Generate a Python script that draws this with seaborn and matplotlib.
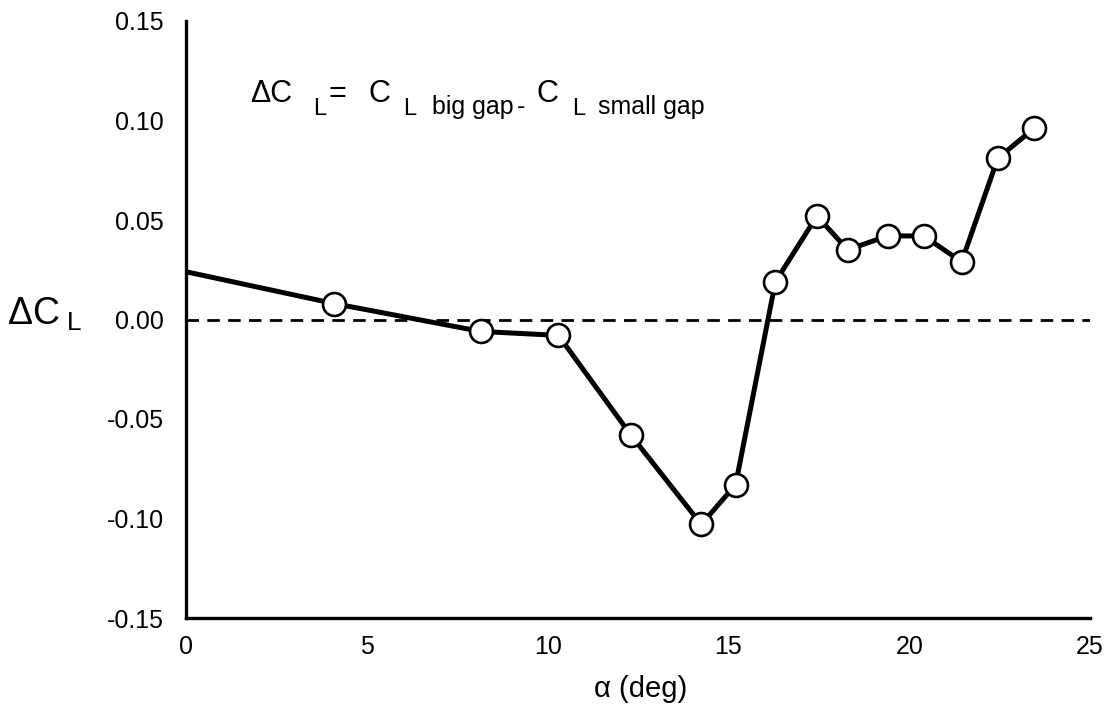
import matplotlib
matplotlib.use("Agg")
import matplotlib.pyplot as plt
import seaborn as sns
import pandas as pd

# ---- data ----
alpha_deg = [0.0, 4.1, 8.15, 10.3, 12.3, 14.25, 15.2, 16.3, 17.45, 18.3, 19.4, 20.4, 21.45, 22.45, 23.45]
delta_cl = [0.024, 0.008, -0.006, -0.008, -0.058, -0.103, -0.083, 0.019, 0.052, 0.035, 0.042, 0.042, 0.029, 0.081, 0.096]
marked = [False] + [True] * (len(alpha_deg) - 1)   # first value is the line start, no symbol

x_ticks = [0, 5, 10, 15, 20, 25]
x_tick_labels = ["0", "5", "10", "15", "20", "25"]
y_ticks = [-0.15, -0.10, -0.05, 0.00, 0.05, 0.10, 0.15]
y_tick_labels = ["-0.15", "-0.10", "-0.05", "0.00", "0.05", "0.10", "0.15"]
x_label = "α (deg)"
y_label = r"$\Delta\mathrm{C}_{\ \mathrm{L}}$"
# annotation pieces: (text, size class)
note_pieces = [("ΔC", "big"), ("L", "sub"), ("=", "big"), ("C", "big"), ("L", "sub"),
               ("big gap", "sub2"), ("-", "sub2"), ("C", "big"), ("L", "sub"), ("small gap", "sub2")]

df = pd.DataFrame({"alpha": alpha_deg, "dcl": delta_cl, "marked": marked})

sns.set_style("white")
plt.rcParams["font.family"] = ["Liberation Sans", "DejaVu Sans"]
plt.rcParams["mathtext.fontset"] = "custom"
plt.rcParams["mathtext.rm"] = "Liberation Sans"
plt.rcParams["mathtext.it"] = "Liberation Sans:italic"
plt.rcParams["mathtext.bf"] = "Liberation Sans:bold"
plt.rcParams["axes.unicode_minus"] = False
plt.rcParams["text.color"] = "black"
plt.rcParams["axes.labelcolor"] = "black"

W, H = 1117, 709
fig = plt.figure(figsize=(W / 100, H / 100), dpi=100)
ax = fig.add_axes([186 / W, 1 - 618 / H, 904 / W, 597 / H])

# zero reference line
ax.axhline(0.0, color="black", lw=2.0, dashes=(4.5, 3.0), zorder=1)

# connecting line
sns.lineplot(data=df, x="alpha", y="dcl", color="black", lw=3.6, ax=ax,
             sort=False, estimator=None, zorder=2)
# circle symbols
sns.scatterplot(data=df[df["marked"]], x="alpha", y="dcl", s=16.5 ** 2, marker="o",
                facecolor="white", edgecolor="black", linewidth=1.9, ax=ax, zorder=3)

ax.set_xlim(0, 25)
ax.set_ylim(-0.15, 0.15)
ax.set_xticks(x_ticks)
ax.set_xticklabels(x_tick_labels)
ax.set_yticks(y_ticks)
ax.set_yticklabels(y_tick_labels)

for side in ["top", "right"]:
    ax.spines[side].set_visible(False)
for side in ["left", "bottom"]:
    ax.spines[side].set_linewidth(2.4)
    ax.spines[side].set_color("black")

ax.tick_params(axis="y", direction="in", length=15, width=1.8, labelsize=18, pad=16,
               colors="black", labelcolor="black")
ax.tick_params(axis="x", direction="in", length=13, width=1.6, labelsize=18, pad=12,
               colors="black", labelcolor="black")

ax.set_xlabel(x_label, fontsize=21, va="baseline", ha="center")
ax.xaxis.set_label_coords((641 - 186) / 904, (618 - 697) / 597)
ax.set_ylabel(y_label, fontsize=27, rotation=0, ha="left", va="baseline")
ax.yaxis.set_label_coords((7 - 186) / 904, (618 - 325) / 597)

# equation annotation (left x px, baseline y px of each piece)
sizes = {"big": 22, "sub": 17, "sub2": 18}
piece_x = [250, 313, 329, 369, 403, 432, 517, 537, 572, 598]
piece_base = {"big": 102, "sub": 115, "sub2": 114}
for (txt, kind), px in zip(note_pieces, piece_x):
    fig.text(px / W, 1 - piece_base[kind] / H, txt, fontsize=sizes[kind],
             ha="left", va="baseline", color="black")

fig.savefig("out.png", dpi=100)
